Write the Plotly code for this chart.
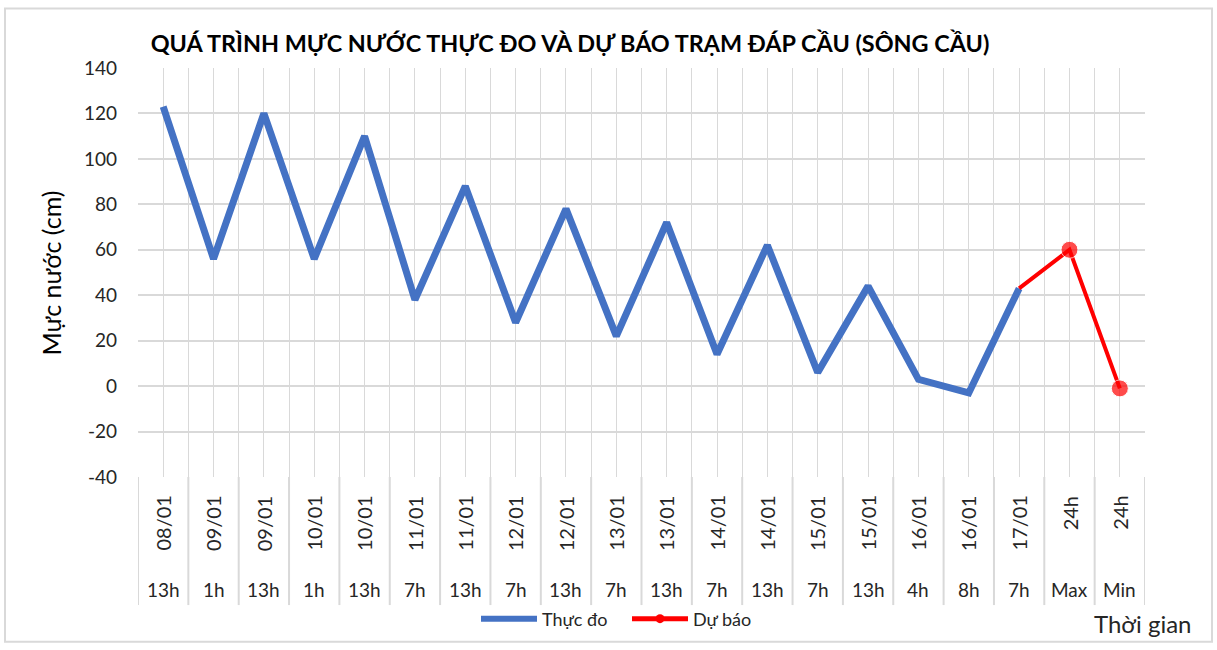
import plotly.graph_objects as go

# ---- data ----
dates = ["08/01", "09/01", "09/01", "10/01", "10/01", "11/01", "11/01", "12/01", "12/01",
         "13/01", "13/01", "14/01", "14/01", "15/01", "15/01", "16/01", "16/01", "17/01",
         "24h", "24h"]
hours = ["13h", "1h", "13h", "1h", "13h", "7h", "13h", "7h", "13h", "7h", "13h", "7h",
         "13h", "7h", "13h", "4h", "8h", "7h", "Max", "Min"]
observed = [123, 56, 120, 56, 110, 38, 88, 28, 78, 22, 72, 14, 62, 6, 44, 3, -3, 43, None, None]
forecast = [None] * 17 + [43, 60, -1]
marker_sizes = [0] * 17 + [0, 17, 17]
y_ticks = [-40, -20, 0, 20, 40, 60, 80, 100, 120, 140]
y_tick_labels = ["-40", "-20", "0", "20", "40", "60", "80", "100", "120", "140"]

n = len(hours)
xs = list(range(n))

W, H = 1217, 650
L, R, T, B = 138, 1145, 68, 480
pw, ph = R - L, B - T


def px(x):
    return (x - L) / pw


def py(y):
    return (B - y) / ph


FONT = "Lato, 'Open Sans', sans-serif"
TXT = "#262626"
GRID = "#d9d9d9"

fig = go.Figure()

fig.add_trace(go.Scatter(x=xs, y=observed, mode="lines", name="Thực đo",
                         line=dict(color="#4472C4", width=7), showlegend=False))
fig.add_trace(go.Scatter(x=xs, y=forecast, mode="lines+markers", name="Dự báo",
                         line=dict(color="#FF0000", width=4),
                         marker=dict(color="#FF0000", size=marker_sizes),
                         showlegend=False))
# legend entries
fig.add_trace(go.Scatter(x=[None], y=[None], mode="lines", name="Thực đo",
                         line=dict(color="#4472C4", width=6)))
fig.add_trace(go.Scatter(x=[None], y=[None], mode="lines+markers", name="Dự báo",
                         line=dict(color="#FF0000", width=5),
                         marker=dict(color="#FF0000", size=9)))

shapes = []
# category separators below the axis
for i in range(n + 1):
    shapes.append(dict(type="line", xref="x", yref="paper", x0=i - 0.5, x1=i - 0.5,
                       y0=0, y1=py(609), line=dict(color=GRID, width=2), layer="below"))
# outer frame
shapes.append(dict(type="rect", xref="paper", yref="paper",
                   x0=px(5), x1=px(1212), y0=py(646), y1=py(8),
                   line=dict(color=GRID, width=2), layer="below"))

annotations = []
for i in range(n):
    annotations.append(dict(x=i, xref="x", y=py(497), yref="paper", text=dates[i],
                            textangle=-90, yanchor="top", xanchor="center", showarrow=False,
                            font=dict(family=FONT, size=20, color=TXT)))
    annotations.append(dict(x=i, xref="x", y=py(593), yref="paper", text=hours[i],
                            yanchor="middle", xanchor="center", showarrow=False,
                            font=dict(family=FONT, size=19, color=TXT)))
annotations.append(dict(x=px(1194), y=py(628), xref="paper", yref="paper", text="Thời gian",
                        xanchor="right", yanchor="middle", showarrow=False,
                        font=dict(family=FONT, size=24, color=TXT)))
annotations.append(dict(x=px(51), y=py(275), xref="paper", yref="paper", text="Mực nước (cm)",
                        textangle=-90, xanchor="center", yanchor="middle", showarrow=False,
                        font=dict(family=FONT, size=25, color="#000000")))

fig.update_layout(
    width=W, height=H, autosize=False,
    margin=dict(l=L, r=W - R, t=T, b=H - B),
    paper_bgcolor="white", plot_bgcolor="white",
    title=dict(text="<b>QUÁ TRÌNH MỰC NƯỚC THỰC ĐO VÀ DỰ BÁO TRẠM ĐÁP CẦU (SÔNG CẦU)</b>",
               xref="container", yref="container", x=570 / W, y=1 - 44 / H,
               xanchor="center", yanchor="middle",
               font=dict(family=FONT, size=23.4, color="#000000")),
    xaxis=dict(range=[-0.5, n - 0.5], tick0=-0.5, dtick=0.5, showticklabels=False,
               showgrid=True, gridcolor=GRID, gridwidth=1, zeroline=False,
               showline=False, fixedrange=True),
    yaxis=dict(range=[-40, 140], tickmode="array", tickvals=y_ticks, ticktext=y_tick_labels,
               showgrid=True, gridcolor=GRID,
               gridwidth=1.5, zeroline=False, showline=False, ticklabelstandoff=20,
               tickfont=dict(family=FONT, size=19, color=TXT)),
    legend=dict(orientation="h", x=px(627), y=py(623), xanchor="center", yanchor="middle",
                font=dict(family=FONT, size=18, color=TXT), itemwidth=56,
                entrywidth=80, entrywidthmode="pixels",
                bgcolor="rgba(0,0,0,0)"),
    shapes=shapes, annotations=annotations,
)

fig.write_html("out.html", config={"displayModeBar": False},
               post_script="document.body.style.margin='0';")
